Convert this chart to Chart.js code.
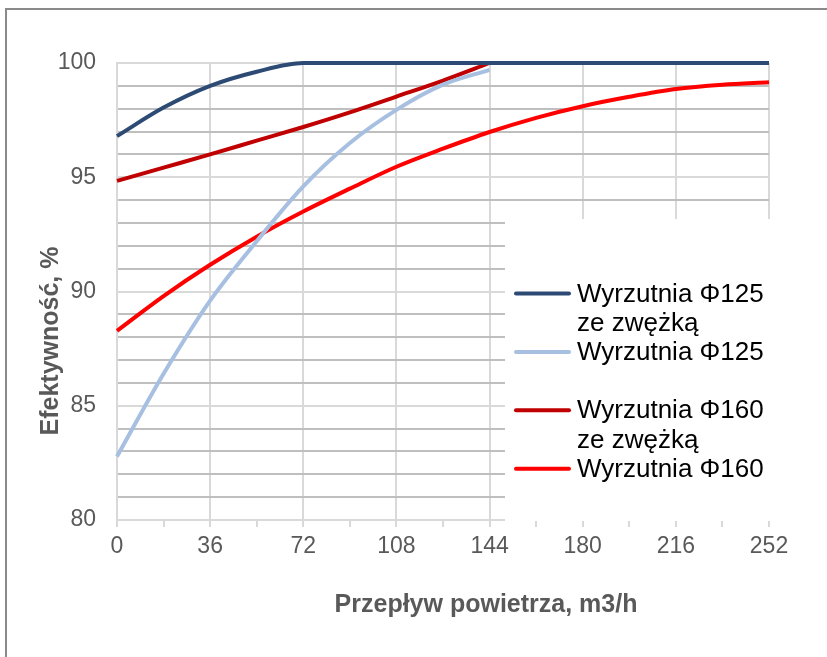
<!DOCTYPE html>
<html>
<head>
<meta charset="utf-8">
<script src="https://cdn.jsdelivr.net/npm/chart.js@4.4.1/dist/chart.umd.min.js"></script>
<style>
  html, body { margin: 0; padding: 0; background: #fff; }
  canvas { display: block; }
</style>
</head>
<body>
<canvas id="chart" width="827" height="657"></canvas>
<script>
// values
const xValues = [0, 18, 36, 54, 72, 90, 108, 126, 144, 162, 180, 198, 216, 234, 252];
const phi125Narrow = [96.8, 98.05, 99.0, 99.62, 100, 100, 100, 100, 100, 100, 100, 100, 100, 100, 100];
const phi125 = [82.78, 86.4, 89.6, 92.2, 94.6, 96.5, 97.95, 99.05, 99.7];
const phi160Narrow = [94.84, 95.42, 96.0, 96.6, 97.2, 97.84, 98.53, 99.23, 100];
const phi160 = [88.28, 89.8, 91.17, 92.4, 93.5, 94.5, 95.46, 96.25, 96.98, 97.6, 98.11, 98.52, 98.86, 99.05, 99.16];

const seriesLabels = [
  ["Wyrzutnia Φ125", "ze zwężką"],
  ["Wyrzutnia Φ125"],
  ["Wyrzutnia Φ160", "ze zwężką"],
  ["Wyrzutnia Φ160"],
];
const seriesColors = ["#2c4a74", "#a7bfe0", "#c00000", "#ff0000"];
const seriesValues = [phi125Narrow, phi125, phi160Narrow, phi160];

const yTitle = "Efektywność, %";
const xTitle = "Przepływ powietrza, m3/h";

const FONT = "'Liberation Sans', Arial, sans-serif";

function toPoints(vals) {
  return vals.map((v, i) => ({ x: xValues[i], y: v }));
}

const datasets = seriesValues.map((vals, i) => ({
  label: seriesLabels[i].join(" "),
  data: toPoints(vals),
  borderColor: seriesColors[i],
  backgroundColor: seriesColors[i],
  borderWidth: 4,
  pointRadius: 0,
  cubicInterpolationMode: "monotone",
  fill: false,
  clip: 4,
}));

// frame, legend box, legend and axis titles
const decorations = {
  id: "decorations",
  beforeDraw(chart) {
    const ctx = chart.ctx;
    ctx.save();
    ctx.fillStyle = "#fff";
    ctx.fillRect(0, 0, chart.width, chart.height);
    ctx.fillStyle = "#8a8a8a";
    ctx.fillRect(5, 8, 2, chart.height);
    ctx.fillRect(5, 8, chart.width, 2);
    ctx.restore();
  },
  beforeDatasetsDraw(chart) {
    const ctx = chart.ctx;
    ctx.save();
    ctx.fillStyle = "#fff";
    ctx.fillRect(505, 219, 267, 302);
    ctx.restore();
  },
  afterDraw(chart) {
    const ctx = chart.ctx;
    ctx.save();
    // legend
    ctx.font = "26px " + FONT;
    ctx.fillStyle = "#000";
    ctx.textBaseline = "alphabetic";
    ctx.textAlign = "left";
    let base = 301.5;
    const step = 29.2;
    seriesLabels.forEach((lines, i) => {
      ctx.strokeStyle = seriesColors[i];
      ctx.lineWidth = 4;
      ctx.lineCap = "round";
      ctx.beginPath();
      ctx.moveTo(516, base - 8);
      ctx.lineTo(569, base - 8);
      ctx.stroke();
      lines.forEach((t, j) => ctx.fillText(t, 577, base + j * step));
      base += 2 * step;
    });
    // axis titles
    ctx.fillStyle = "#595959";
    ctx.font = "bold 25px " + FONT;
    ctx.textAlign = "center";
    ctx.textBaseline = "middle";
    ctx.fillText(xTitle, 486, 605);
    ctx.translate(51, 341);
    ctx.rotate(-Math.PI / 2);
    ctx.fillText(yTitle, 0, 0);
    ctx.restore();
  },
};

new Chart(document.getElementById("chart"), {
  type: "line",
  data: { datasets },
  options: {
    responsive: false,
    devicePixelRatio: 1,
    animation: false,
    layout: { padding: { top: 63, right: 58, left: 0, bottom: 0 } },
    plugins: {
      legend: { display: false },
      tooltip: { enabled: false },
    },
    scales: {
      x: {
        type: "linear",
        min: 0,
        max: 252,
        afterFit: (s) => { s.height = 137; },
        border: { color: "#d9d9d9", width: 2 },
        grid: {
          color: (c) => (c.tick && c.tick.value % 36 === 0 ? "#d9d9d9" : "rgba(0,0,0,0)"),
          tickColor: "#d9d9d9",
          tickLength: 7,
          lineWidth: 2,
        },
        ticks: {
          stepSize: 18,
          autoSkip: false,
          maxRotation: 0,
          padding: 6,
          color: "#595959",
          font: { family: FONT, size: 23 },
          callback: (v) => (v % 36 === 0 ? String(v) : ""),
        },
      },
      y: {
        min: 80,
        max: 100,
        afterFit: (s) => { s.width = 117; },
        border: { color: "#d9d9d9", width: 2 },
        grid: {
          drawTicks: false,
          color: (c) => (c.tick && c.tick.value % 5 === 0 ? "#d9d9d9" : "#bfbfbf"),
          lineWidth: 2,
        },
        ticks: {
          stepSize: 1,
          autoSkip: false,
          padding: 21,
          color: "#595959",
          font: { family: FONT, size: 23 },
          callback: (v) => (v % 5 === 0 ? String(v) : ""),
        },
      },
    },
  },
  plugins: [decorations],
});
</script>
</body>
</html>
